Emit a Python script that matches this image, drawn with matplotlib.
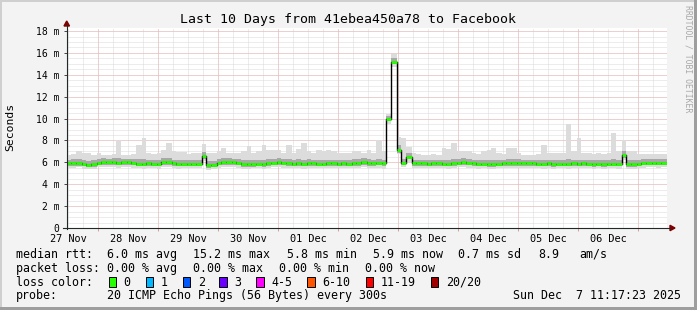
import numpy as np
import pandas as pd
import matplotlib
matplotlib.use("Agg")
import matplotlib.pyplot as plt
import matplotlib.dates as mdates
from matplotlib.lines import Line2D
from matplotlib.patches import Polygon, Rectangle

W, H = 697, 310
plt.rcParams['font.family'] = ['DejaVu Sans Mono']

# smokeping data, consolidated to 2 hour steps (last 10 days)
start = pd.Timestamp("2025-11-27 11:17:23")
times = pd.date_range(start, periods=121, freq="2h")

median = [
    5.90, 5.90, 5.92, 5.88, 5.80, 5.82, 5.98, 6.00, 6.00, 6.00, 5.98, 6.00,
    6.00, 5.95, 5.88, 5.88, 5.90, 5.88, 5.88, 6.00, 6.00, 5.90, 5.88, 5.88,
    5.88, 5.88, 5.88, 6.60, 5.78, 5.80, 5.95, 6.00, 6.00, 6.00, 5.98, 5.85,
    5.85, 5.85, 5.88, 5.85, 5.90, 5.95, 6.00, 5.95, 5.90, 5.88, 5.90, 5.88,
    5.92, 5.90, 5.88, 5.88, 5.90, 5.90, 5.88, 5.90, 5.88, 5.90, 5.92, 6.00,
    5.92, 5.90, 5.95, 5.90, 10.00, 15.20, 7.10, 5.95, 6.50, 5.90, 5.90, 5.90,
    5.88, 5.90, 5.90, 5.88, 5.88, 5.90, 5.95, 6.02, 5.95, 5.90, 5.88, 5.88,
    5.85, 5.85, 5.88, 5.90, 5.90, 5.90, 5.92, 5.90, 5.90, 5.90, 5.88, 5.88,
    5.90, 5.85, 5.88, 5.88, 5.88, 5.90, 5.88, 5.90, 5.88, 5.85, 5.88, 5.85,
    5.88, 5.88, 5.88, 6.65, 5.85, 5.85, 5.88, 5.95, 5.95, 5.95, 5.95, 5.95,
]
smoke_max = [
    6.70, 6.80, 7.05, 6.85, 6.85, 6.70, 6.85, 6.70, 6.70, 6.80, 8.00, 6.70,
    6.70, 6.80, 7.60, 8.20, 6.85, 6.80, 6.90, 7.10, 7.75, 7.00, 6.95, 6.95,
    6.80, 6.85, 6.90, 7.70, 6.90, 6.85, 7.00, 7.30, 6.90, 6.85, 6.90, 7.00,
    7.45, 6.90, 7.00, 7.60, 7.10, 7.10, 7.10, 6.90, 7.60, 6.90, 7.20, 7.75,
    7.00, 6.90, 7.10, 7.00, 7.10, 7.00, 6.90, 6.90, 6.90, 7.00, 7.00, 6.85,
    7.10, 6.85, 8.00, 7.00, 10.40, 15.90, 8.30, 8.20, 7.40, 6.90, 6.80, 6.70,
    6.70, 6.80, 6.70, 7.30, 7.20, 7.80, 7.00, 7.00, 7.00, 6.90, 6.80, 7.00,
    7.10, 7.30, 6.90, 6.80, 7.30, 7.30, 6.90, 6.70, 6.70, 6.70, 6.80, 7.60,
    6.85, 6.85, 6.90, 6.85, 9.50, 7.00, 8.20, 6.90, 6.85, 6.80, 6.85, 6.80,
    6.90, 8.65, 7.00, 8.05, 7.00, 7.00, 6.80, 6.75, 6.75, 6.80, 6.75, 6.75,
]
smoke_min = [
    5.50, 5.45, 5.55, 5.40, 5.35, 5.40, 5.55, 5.60, 5.55, 5.60, 5.50, 5.55,
    5.60, 5.50, 5.45, 5.40, 5.50, 5.45, 5.35, 5.55, 5.60, 5.45, 5.40, 5.45,
    5.50, 5.45, 5.50, 6.15, 5.30, 5.35, 5.50, 5.55, 5.60, 5.55, 5.50, 5.40,
    5.40, 5.45, 5.45, 5.40, 5.50, 5.55, 5.60, 5.50, 5.45, 5.45, 5.50, 5.40,
    5.50, 5.45, 5.45, 5.50, 5.50, 5.45, 5.45, 5.50, 5.45, 5.50, 5.50, 5.55,
    5.50, 5.45, 5.50, 5.40, 9.50, 14.70, 6.80, 5.55, 6.05, 5.45, 5.50, 5.50,
    5.45, 5.50, 5.45, 5.45, 5.40, 5.50, 5.55, 5.60, 5.50, 5.45, 5.40, 5.45,
    5.35, 5.40, 5.45, 5.50, 5.45, 5.50, 5.50, 5.45, 5.50, 5.50, 5.45, 5.40,
    5.50, 5.40, 5.45, 5.45, 5.40, 5.50, 5.45, 5.50, 5.45, 5.35, 5.45, 5.40,
    5.45, 5.45, 5.40, 6.25, 5.40, 5.35, 5.45, 5.50, 5.55, 5.55, 5.50, 5.55,
]
core_lo = [
    5.68, 5.66, 5.70, 5.64, 5.58, 5.60, 5.74, 5.78, 5.76, 5.78, 5.74, 5.78,
    5.78, 5.72, 5.64, 5.66, 5.68, 5.64, 5.64, 5.78, 5.78, 5.66, 5.64, 5.66,
    5.66, 5.64, 5.66, 6.35, 5.52, 5.56, 5.72, 5.78, 5.78, 5.78, 5.74, 5.62,
    5.62, 5.62, 5.66, 5.62, 5.68, 5.72, 5.78, 5.72, 5.68, 5.66, 5.68, 5.64,
    5.70, 5.68, 5.64, 5.66, 5.68, 5.68, 5.64, 5.68, 5.66, 5.68, 5.70, 5.78,
    5.70, 5.68, 5.72, 5.66, 9.75, 14.95, 6.90, 5.72, 6.28, 5.68, 5.68, 5.66,
    5.66, 5.68, 5.68, 5.64, 5.66, 5.68, 5.72, 5.80, 5.72, 5.68, 5.66, 5.64,
    5.62, 5.62, 5.66, 5.68, 5.68, 5.68, 5.70, 5.68, 5.68, 5.68, 5.66, 5.64,
    5.68, 5.62, 5.66, 5.66, 5.64, 5.68, 5.66, 5.68, 5.66, 5.62, 5.66, 5.62,
    5.66, 5.64, 5.66, 6.42, 5.62, 5.62, 5.66, 5.72, 5.72, 5.72, 5.72, 5.72,
]
core_hi = [
    6.25, 6.28, 6.30, 6.22, 6.15, 6.18, 6.32, 6.38, 6.35, 6.36, 6.40, 6.34,
    6.35, 6.30, 6.28, 6.30, 6.25, 6.22, 6.26, 6.36, 6.40, 6.26, 6.24, 6.22,
    6.24, 6.22, 6.26, 6.95, 6.15, 6.15, 6.32, 6.38, 6.36, 6.34, 6.35, 6.22,
    6.24, 6.20, 6.24, 6.26, 6.28, 6.30, 6.36, 6.30, 6.30, 6.24, 6.28, 6.26,
    6.28, 6.26, 6.24, 6.22, 6.26, 6.25, 6.22, 6.26, 6.24, 6.28, 6.30, 6.36,
    6.28, 6.26, 6.34, 6.26, 10.20, 15.55, 7.55, 6.35, 6.85, 6.24, 6.25, 6.22,
    6.22, 6.24, 6.26, 6.26, 6.24, 6.30, 6.32, 6.38, 6.30, 6.25, 6.22, 6.24,
    6.22, 6.24, 6.22, 6.25, 6.28, 6.30, 6.28, 6.25, 6.24, 6.24, 6.22, 6.26,
    6.24, 6.20, 6.24, 6.22, 6.30, 6.25, 6.26, 6.24, 6.22, 6.20, 6.22, 6.20,
    6.22, 6.28, 6.24, 7.00, 6.22, 6.20, 6.24, 6.30, 6.30, 6.32, 6.30, 6.30,
]

y_ticks = [0, 2, 4, 6, 8, 10, 12, 14, 16, 18]
y_labels = ['0', '2 m', '4 m', '6 m', '8 m', '10 m', '12 m', '14 m', '16 m', '18 m']
day_labels = ['27 Nov', '28 Nov', '29 Nov', '30 Nov', '01 Dec',
              '02 Dec', '03 Dec', '04 Dec', '05 Dec', '06 Dec']
loss_labels = ['0', '1', '2', '3', '4-5', '6-10', '11-19', '20/20']
loss_colors = ['#26ff00', '#00b8ff', '#0059ff', '#6a00ff',
               '#ff00ff', '#ff5500', '#ff0000', '#a10000']

title = "Last 10 Days from 41ebea450a78 to Facebook"
rtt_items = ["median rtt:", "6.0 ms avg", "15.2 ms max", "5.8 ms min",
             "5.9 ms now", "0.7 ms sd", "8.9", "am/s"]
loss_items = ["packet loss:", "0.00 % avg", "0.00 % max", "0.00 % min", "0.00 % now"]
probe_items = ["probe:", "20 ICMP Echo Pings (56 Bytes) every 300s",
               "Sun Dec  7 11:17:23 2025"]


def fx(px):
    return px / W


def fy(py):
    return 1 - py / H


fig = plt.figure(figsize=(W / 100, H / 100), dpi=100, facecolor='#f3f3f3')
ax = fig.add_axes([fx(66.5), fy(228), 600 / W, (228 - 27.8) / H])
ax.set_facecolor('white')
for s in ax.spines.values():
    s.set_visible(False)

t = mdates.date2num(times.to_pydatetime())
t0, t1 = t[0], mdates.date2num((start + pd.Timedelta(days=10)).to_pydatetime())
ax.set_xlim(t0, t1)
ax.set_ylim(0, 18.3)

# grid (dotted)
minor_x = mdates.date2num(pd.date_range("2025-11-27 12:00", "2025-12-07 06:00", freq="6h").to_pydatetime())
midnights = mdates.date2num(pd.date_range("2025-11-28", periods=10, freq="D").to_pydatetime())
noons = mdates.date2num(pd.date_range("2025-11-27 12:00", periods=10, freq="D").to_pydatetime())
grid_kw = dict(lw=0.72, ls=(0, (1, 1)))
for v in minor_x:
    ax.axvline(v, color='#dadada', zorder=0, **grid_kw)
for v in np.arange(0.5, 18.3, 0.5):
    ax.axhline(v, color='#dadada', zorder=0, **grid_kw)
for v in midnights:
    ax.axvline(v, color='#ecb4b4', zorder=0.5, **grid_kw)
for v in y_ticks[1:]:
    ax.axhline(v, color='#ecb4b4', zorder=0.5, **grid_kw)

# smoke
ext = lambda a: np.append(a, a[-1])
ax.fill_between(t, ext(smoke_min), ext(smoke_max), step='post', color='#dcdcdc', lw=0, zorder=1)
ax.fill_between(t, ext(core_lo), ext(core_hi), step='post', color='#a8a8a8', lw=0, zorder=2)

# median line, coloured by loss (all 0 here)
ax.step(t, ext(median), where='post', color='black', lw=1.0, zorder=3)
ax.hlines(median, t[:-1], t[1:], color=loss_colors[0], lw=2.0, zorder=4)

# ticks
ax.set_yticks(y_ticks, y_labels)
ax.tick_params(axis='y', length=2, width=0.7, color='#444444', pad=3, labelsize=7.0)
ax.set_xticks(midnights, [''] * len(midnights))
ax.tick_params(axis='x', which='major', length=2, width=0.7, color='#e09a9a')
ax.set_xticks(noons, day_labels, minor=True)
ax.tick_params(axis='x', which='minor', length=0, pad=4, labelsize=7.4)

# axis lines with arrows
axis_col = '#1f2a28'
fig.add_artist(Line2D([fx(66.7), fx(66.7)], [fy(228.5), fy(25)], color=axis_col, lw=0.8))
fig.add_artist(Line2D([fx(63), fx(670)], [fy(228), fy(228)], color=axis_col, lw=0.8))
fig.add_artist(Polygon([[fx(64), fy(26)], [fx(69.5), fy(26)], [fx(66.7), fy(21)]],
                       closed=True, color='#7f0000', transform=fig.transFigure))
fig.add_artist(Polygon([[fx(670), fy(225.3)], [fx(670), fy(230.7)], [fx(675), fy(228)]],
                       closed=True, color='#7f0000', transform=fig.transFigure))

# frame shading
for (x, y, w, h, c) in [(0, 0, W, 2, '#cfcfcf'), (0, 0, 2, H, '#cfcfcf'),
                        (W - 3, 0, 3, H, '#9e9e9e'), (0, H - 3, W, 3, '#9e9e9e')]:
    fig.add_artist(Rectangle((fx(x), fy(y + h)), w / W, h / H, color=c,
                             transform=fig.transFigure, lw=0))

# texts
fig.text(fx(347.5), fy(23.3), title, ha='center', va='baseline', fontsize=9.5)
fig.text(fx(10.5), fy(127), 'Seconds', rotation=90, ha='center', va='center', fontsize=8.2)
fig.text(fx(688), fy(59), 'RRDTOOL / TOBI OETIKER', rotation=270, ha='center',
         va='center', fontsize=5.9, color='#a8a8a8')

fs = 8.4
for x, s in zip([16, 107.3, 193.3, 286.7, 372.7, 458.3, 538.3, 579.3], rtt_items):
    fig.text(fx(x), fy(257.7), s, ha='left', va='baseline', fontsize=fs)
for x, s in zip([16, 107.3, 193.3, 279.3, 365], loss_items):
    fig.text(fx(x), fy(271.7), s, ha='left', va='baseline', fontsize=fs)
fig.text(fx(16), fy(285.7), "loss color:", ha='left', va='baseline', fontsize=fs)
box_x = [108.5, 145.7, 182.7, 219.3, 256, 307.3, 365.7, 430.7]
for bx, lab, col in zip(box_x, loss_labels, loss_colors):
    fig.add_artist(Rectangle((fx(bx), fy(286.5)), 7.5 / W, 9.5 / H, facecolor=col,
                             edgecolor='black', lw=0.7, transform=fig.transFigure))
    fig.text(fx(bx + 15), fy(285.7), lab, ha='left', va='baseline', fontsize=fs)
for x, s in zip([16, 107.3, 513.3], probe_items):
    fig.text(fx(x), fy(299.3), s, ha='left', va='baseline', fontsize=fs)

fig.savefig("out.png", dpi=100, facecolor=fig.get_facecolor())
